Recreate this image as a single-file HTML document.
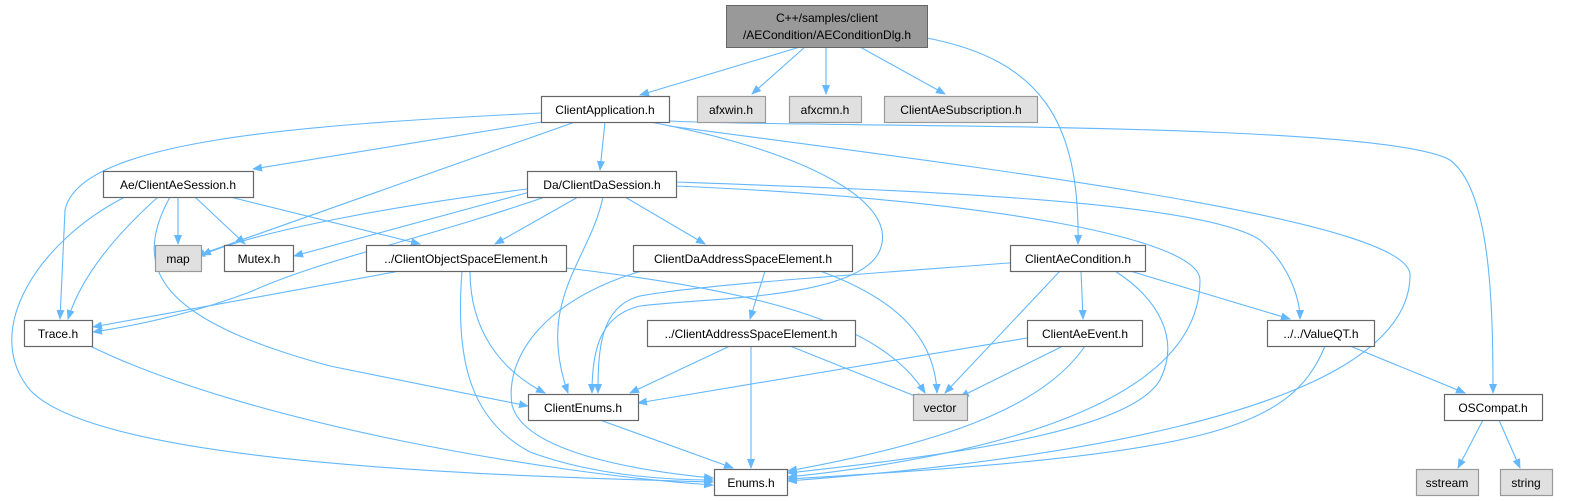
<!DOCTYPE html>
<html><head><meta charset="utf-8"><style>
html,body{margin:0;padding:0;background:#fff;}
svg{display:block;}
text{font-family:"Liberation Sans",Arial,sans-serif;font-size:12px;fill:#000;}
.e{fill:none;stroke:#63b8ff;stroke-width:1.1;marker-end:url(#a);}
.n{fill:#fff;stroke:#666;stroke-width:1.2;}
.g{fill:#e0e0e0;stroke:#999;stroke-width:1.2;}
</style></head><body>
<svg width="1584" height="501" viewBox="0 0 1584 501" xmlns="http://www.w3.org/2000/svg">
<defs><marker id="a" markerWidth="10" markerHeight="8" refX="9" refY="4" orient="auto" markerUnits="userSpaceOnUse"><path d="M0,0 L10,4 L0,8 z" fill="#63b8ff"/></marker></defs>
<g>
<path class="e" d="M800,47 L640,95"/>
<path class="e" d="M805,47 L752,94"/>
<path class="e" d="M826,47 L826,94"/>
<path class="e" d="M860,47 L945,94"/>
<path class="e" d="M927,38 C1040,60 1080,120 1078,244"/>
<path class="e" d="M541,113 C300,125 80,140 65,210 L60,319"/>
<path class="e" d="M548,121 L253,169"/>
<path class="e" d="M575,122 L196,256"/>
<path class="e" d="M605,122 L600,170"/>
<path class="e" d="M650,122 C800,150 900,200 880,250 C860,300 700,298 640,306 C600,315 592,350 592,393"/>
<path class="e" d="M669,126 C1000,170 1410,220 1410,275 C1410,420 1000,465 788,481"/>
<path class="e" d="M669,121 C800,128 1380,120 1450,160 C1490,190 1493,300 1493,393"/>
<path class="e" d="M178,197 L178,244"/>
<path class="e" d="M195,197 L245,244"/>
<path class="e" d="M230,197 L420,244"/>
<path class="e" d="M158,197 C110,240 80,280 68,319"/>
<path class="e" d="M125,197 C40,240 -20,330 30,390 C100,465 500,476 713,482"/>
<path class="e" d="M170,197 C130,270 160,320 330,366 L528,406"/>
<path class="e" d="M527,189 C400,205 260,230 202,255"/>
<path class="e" d="M530,192 L294,256"/>
<path class="e" d="M545,197 C420,240 320,260 250,292 C180,318 120,328 93,332"/>
<path class="e" d="M578,197 L495,244"/>
<path class="e" d="M603,197 C590,260 535,300 568,393"/>
<path class="e" d="M625,197 L705,244"/>
<path class="e" d="M676,182 C900,190 1200,200 1260,240 C1290,265 1300,300 1300,319"/>
<path class="e" d="M676,186 C1000,200 1200,240 1200,280 C1200,400 1000,455 788,477"/>
<path class="e" d="M400,271 L93,327"/>
<path class="e" d="M470,271 C470,330 500,370 545,393"/>
<path class="e" d="M462,271 C455,360 470,420 530,452 C600,478 680,480 713,480"/>
<path class="e" d="M566,268 C750,290 880,320 925,393"/>
<path class="e" d="M765,271 L750,319"/>
<path class="e" d="M820,271 C900,300 935,340 937,393"/>
<path class="e" d="M645,270 C540,300 505,360 512,405 C525,455 650,472 713,478"/>
<path class="e" d="M1022,262 C850,275 700,285 640,296 C600,306 598,350 598,393"/>
<path class="e" d="M1060,271 L945,393"/>
<path class="e" d="M1081,271 L1083,319"/>
<path class="e" d="M1130,271 L1290,319"/>
<path class="e" d="M1115,271 C1160,300 1180,340 1160,380 C1130,432 950,455 788,473"/>
<path class="e" d="M730,346 L630,393"/>
<path class="e" d="M751,346 L751,468"/>
<path class="e" d="M790,346 L925,400"/>
<path class="e" d="M1027,338 L638,403"/>
<path class="e" d="M1063,346 L960,397"/>
<path class="e" d="M1085,346 C1040,412 930,445 788,471"/>
<path class="e" d="M1350,346 L1465,393"/>
<path class="e" d="M1325,346 C1290,432 1200,455 788,479"/>
<path class="e" d="M90,346 C250,424 550,474 713,485"/>
<path class="e" d="M600,420 L733,468"/>
<path class="e" d="M1483,420 L1458,468"/>
<path class="e" d="M1499,420 L1520,468"/>
</g>
<rect x="726.5" y="5.5" width="201" height="42" fill="#999" stroke="#666"/>
<text x="827" y="22" text-anchor="middle">C++/samples/client</text>
<text x="827" y="39" text-anchor="middle">/AECondition/AEConditionDlg.h</text>

<rect class="n" x="541.5" y="96.5" width="128" height="26"/><text x="605" y="114" text-anchor="middle">ClientApplication.h</text>
<rect class="g" x="697.5" y="96.5" width="68" height="26"/><text x="731" y="114" text-anchor="middle">afxwin.h</text>
<rect class="g" x="789.5" y="96.5" width="72" height="26"/><text x="825" y="114" text-anchor="middle">afxcmn.h</text>
<rect class="g" x="884.5" y="96.5" width="153" height="26"/><text x="961" y="114" text-anchor="middle">ClientAeSubscription.h</text>

<rect class="n" x="103.5" y="171.5" width="150" height="26"/><text x="178" y="189" text-anchor="middle">Ae/ClientAeSession.h</text>
<rect class="n" x="527.5" y="171.5" width="149" height="26"/><text x="602" y="189" text-anchor="middle">Da/ClientDaSession.h</text>

<rect class="g" x="155.5" y="245.5" width="46" height="26"/><text x="178" y="263" text-anchor="middle">map</text>
<rect class="n" x="224.5" y="245.5" width="69" height="26"/><text x="259" y="263" text-anchor="middle">Mutex.h</text>
<rect class="n" x="366.5" y="245.5" width="200" height="26"/><text x="466" y="263" text-anchor="middle">../ClientObjectSpaceElement.h</text>
<rect class="n" x="633.5" y="245.5" width="219" height="26"/><text x="743" y="263" text-anchor="middle">ClientDaAddressSpaceElement.h</text>
<rect class="n" x="1010.5" y="245.5" width="135" height="26"/><text x="1078" y="263" text-anchor="middle">ClientAeCondition.h</text>

<rect class="n" x="24.5" y="320.5" width="68" height="26"/><text x="58" y="338" text-anchor="middle">Trace.h</text>
<rect class="n" x="647.5" y="320.5" width="208" height="26"/><text x="751" y="338" text-anchor="middle">../ClientAddressSpaceElement.h</text>
<rect class="n" x="1027.5" y="320.5" width="115" height="26"/><text x="1085" y="338" text-anchor="middle">ClientAeEvent.h</text>
<rect class="n" x="1267.5" y="320.5" width="107" height="26"/><text x="1321" y="338" text-anchor="middle">../../ValueQT.h</text>

<rect class="n" x="528.5" y="394.5" width="110" height="26"/><text x="583" y="412" text-anchor="middle">ClientEnums.h</text>
<rect class="g" x="913.5" y="394.5" width="54" height="26"/><text x="940" y="412" text-anchor="middle">vector</text>
<rect class="n" x="1444.5" y="394.5" width="98" height="26"/><text x="1493" y="412" text-anchor="middle">OSCompat.h</text>

<rect class="n" x="714.5" y="469.5" width="73" height="26"/><text x="751" y="487" text-anchor="middle">Enums.h</text>
<rect class="g" x="1416.5" y="469.5" width="62" height="26"/><text x="1447" y="487" text-anchor="middle">sstream</text>
<rect class="g" x="1500.5" y="469.5" width="52" height="26"/><text x="1526" y="487" text-anchor="middle">string</text>
</svg>
</body></html>
